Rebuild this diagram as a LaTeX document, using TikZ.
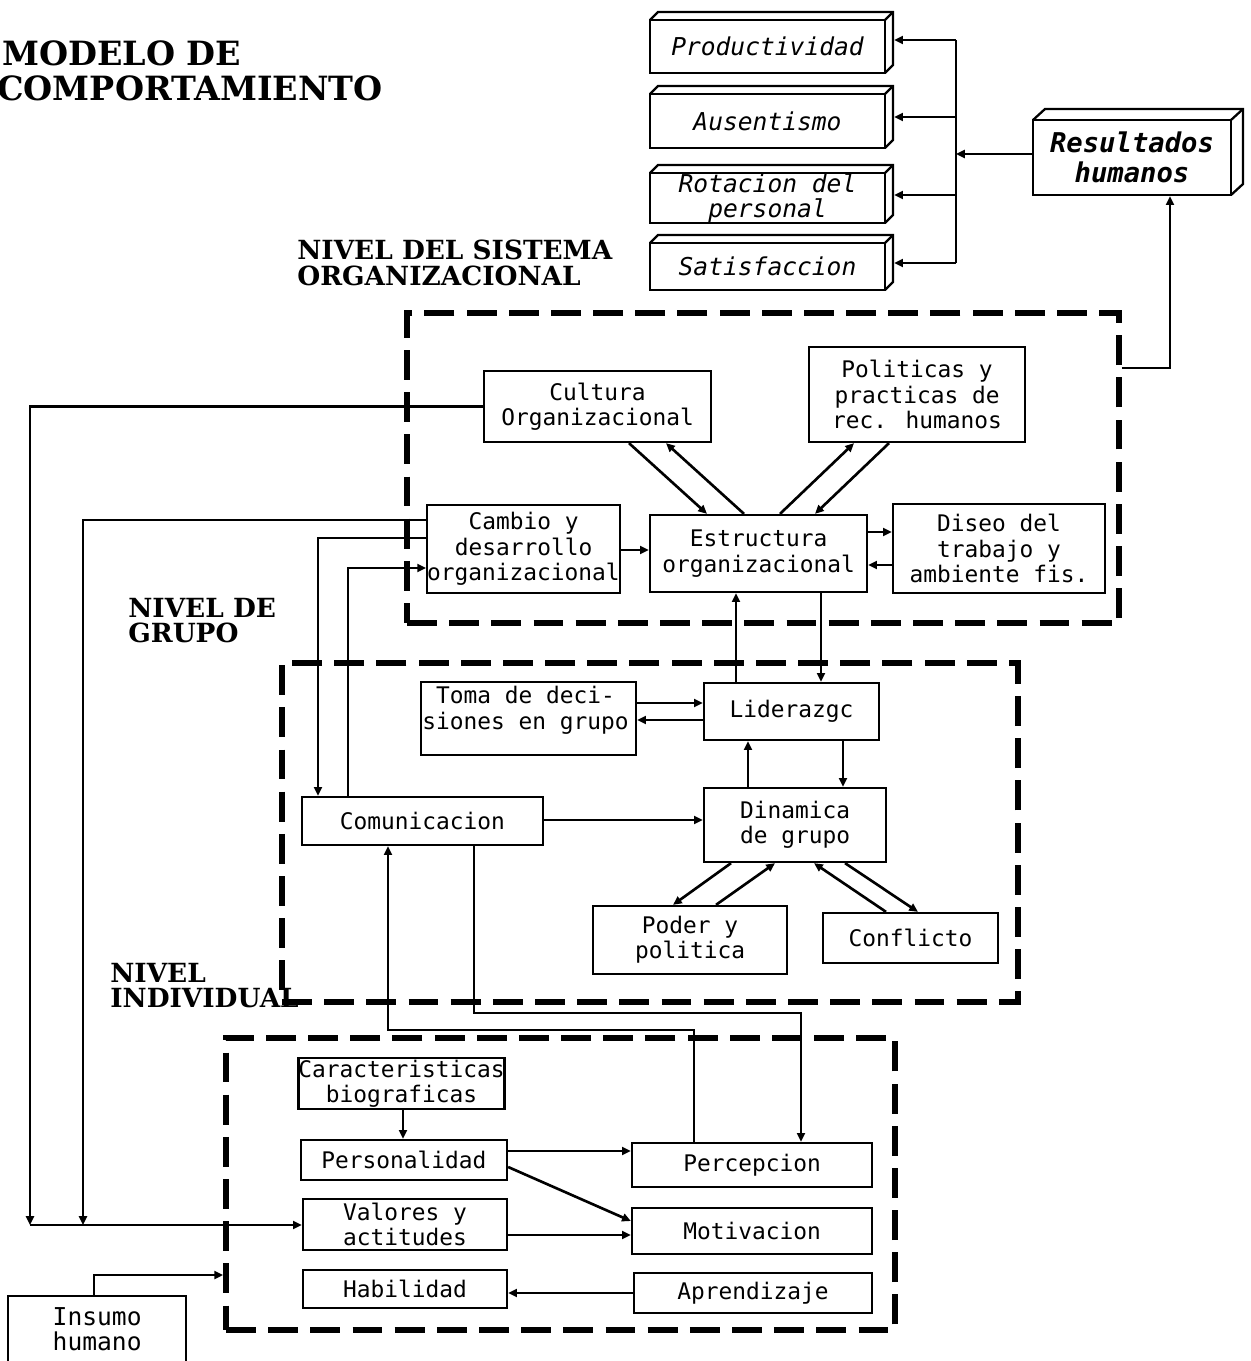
\documentclass[tikz,border=0pt]{standalone}
\usepackage{fontspec}
\usetikzlibrary{arrows.meta,calc}
\newfontfamily\boxfont{DejaVu Sans Mono}
\newfontfamily\headfont{DejaVu Serif}

\tikzset{
  box/.style={draw, line width=1.3pt, fill=white, inner sep=0pt, align=center,
    font=\boxfont\fontsize{13}{14.4}\selectfont},
  slab/.style={line width=1.3pt},
  zone/.style={draw, line width=3.2pt, dash pattern=on 17pt off 7pt, inner sep=0pt},
  conn/.style={line width=1.5pt},
  arr/.style={line width=1.5pt, -{Triangle[length=5pt,width=4.5pt]}},
  levellabel/.style={inner sep=0pt, align=left, anchor=north west,
    font=\headfont\bfseries\fontsize{15}{14.4}\selectfont},
}

% rectangle node from its corners (x1,y1)-(x2,y2)
\newcommand{\rbox}[6]{%
  \node[box, minimum width={(#4-#2)*0.02cm}, minimum height={(#5-#3)*0.02cm}]
    (#1) at ({(#2+#4)/2},{(#3+#5)/2}) {#6};}
\newcommand{\zbox}[5]{%
  \node[zone, minimum width={(#4-#2)*0.02cm}, minimum height={(#5-#3)*0.02cm}]
    (#1) at ({(#2+#4)/2},{(#3+#5)/2}) {};}
% box with a raised back face (offset #6,#7), text #9 in font #8
\newcommand{\slabbox}[9]{%
  \draw[slab] (#2,#3) -- ++(#6,-#7) -- ({#4+#6},{#3-#7}) -- ({#4+#6},{#5-#7}) -- (#4,#5);
  \draw[slab] (#4,#3) -- ++(#6,-#7);
  \node[box, font=#8, minimum width={(#4-#2)*0.02cm}, minimum height={(#5-#3)*0.02cm}]
    (#1) at ({(#2+#4)/2},{(#3+#5)/2}) {#9};}

\begin{document}
\begin{tikzpicture}[x=0.02cm, y=-0.02cm]
\useasboundingbox (0,0) rectangle (1250,1361);
\fill[white] (0,0) rectangle (1250,1361);
\clip (0,0) rectangle (1250,1361);

% ---------- title and level labels ----------
\node[anchor=base west, inner sep=0pt, font=\headfont\bfseries\fontsize{19}{24}\selectfont]
  (t1) at (2,66) {MODELO DE};
\node[anchor=base west, inner sep=0pt, font=\headfont\bfseries\fontsize{19}{24}\selectfont]
  (t2) at (-3,101) {COMPORTAMIENTO};
\node[levellabel] (lvorg) at (297,240) {NIVEL DEL SISTEMA\\ORGANIZACIONAL};
\node[levellabel] (lvgrp) at (128,598) {NIVEL DE\\GRUPO};
\node[levellabel] (lvind) at (110,963) {NIVEL\\INDIVIDUAL};

% ---------- dashed zones ----------
\zbox{org}{407}{313}{1119}{623}
\zbox{grp}{282}{663}{1018}{1002}
\zbox{ind}{226}{1038}{895}{1330}

% ---------- human outcomes ----------
\slabbox{prod}{650}{20}{885}{73}{8}{8}{\boxfont\itshape\fontsize{14}{14.4}\selectfont}{Productividad}
\slabbox{aus}{650}{94}{885}{148}{8}{8}{\boxfont\itshape\fontsize{14}{14.4}\selectfont}{Ausentismo}
\slabbox{rot}{650}{173}{885}{223}{8}{8}{\boxfont\itshape\fontsize{14}{14.4}\selectfont}{Rotacion del\\personal}
\slabbox{sat}{650}{243}{885}{290}{8}{8}{\boxfont\itshape\fontsize{14}{14.4}\selectfont}{Satisfaccion}
\slabbox{res}{1033}{120}{1231}{195}{12}{11}{\boxfont\bfseries\itshape\fontsize{15.5}{17}\selectfont}{Resultados\\humanos}

% ---------- organizational level ----------
\rbox{cult}{484}{371}{711}{442}{Cultura\\Organizacional}
\rbox{pol}{809}{347}{1025}{442}{Politicas y\\practicas de\\rec. humanos}
\rbox{camb}{429}{505}{618}{593}{Cambio y\\desarrollo\\organizacional}
\rbox{est}{650}{515}{867}{592}{Estructura\\organizacional}
\rbox{dis}{893}{504}{1105}{593}{Diseo del\\trabajo y\\ambiente fis.}

% ---------- group level ----------
\rbox{toma}{421}{682}{636}{755}{}
\node[inner sep=0pt, anchor=north west, align=left, font=\boxfont\fontsize{13}{14.4}\selectfont]
  (tomatxt) at (422,686) {\ Toma de deci-\\siones en grupo};
\rbox{lid}{704}{683}{879}{740}{Liderazgc}
\rbox{din}{704}{788}{886}{862}{Dinamica\\de grupo}
\rbox{com}{302}{797}{543}{845}{Comunicacion}
\rbox{pod}{593}{906}{787}{974}{Poder y\\politica}
\rbox{conf}{823}{913}{998}{963}{Conflicto}

% ---------- individual level ----------
\rbox{carac}{301}{1058}{502}{1109}{Caracteristicas\\biograficas}
\rbox{pers}{301}{1140}{507}{1180}{Personalidad}
\rbox{val}{303}{1199}{507}{1250}{Valores y\\actitudes}
\rbox{hab}{303}{1270}{507}{1308}{Habilidad}
\rbox{perc}{632}{1143}{872}{1187}{Percepcion}
\rbox{mot}{632}{1208}{872}{1254}{Motivacion}
\rbox{apr}{634}{1273}{872}{1313}{Aprendizaje}
\node[box, font=\boxfont\fontsize{14}{14.4}\selectfont, minimum width={178*0.02cm},
  minimum height={66*0.02cm}, anchor=north west] (ins) at (7,1295) {Insumo\\humano};

% ---------- outcome connectors ----------
\coordinate (b1) at (956,40);
\coordinate (b2) at (956,117);
\coordinate (b3) at (956,195);
\coordinate (b4) at (956,263);
\coordinate (bm) at (956,154);
\draw[conn] (b1) -- (b4);
\draw[arr] (b1) -- ($(prod.east |- b1)+(8,0)$);
\draw[arr] (b2) -- ($(aus.east |- b2)+(8,0)$);
\draw[arr] (b3) -- ($(rot.east |- b3)+(8,0)$);
\draw[arr] (b4) -- ($(sat.east |- b4)+(8,0)$);
\draw[arr] (res.west |- bm) -- (bm);
\draw[arr] (org.east |- 0,368) -| (res.south -| 1170,0);

% ---------- organizational connectors ----------
\draw[arr] (cult.south -| 629,0) -- (est.north -| 707,0);
\draw[arr] (est.north -| 744,0) -- (cult.south -| 666,0);
\draw[arr] (est.north -| 780,0) -- (pol.south -| 854,0);
\draw[arr] (pol.south -| 889,0) -- (est.north -| 815,0);
\draw[arr] (camb.east |- 0,550) -- (est.west |- 0,550);
\draw[arr] (est.east |- 0,532) -- (dis.west |- 0,532);
\draw[arr] (dis.west |- 0,565) -- (est.east |- 0,565);
\draw[arr] (lid.north -| 736,0) -- (est.south -| 736,0);
\draw[arr] (est.south -| 821,0) -- (lid.north -| 821,0);

% ---------- long feedback lines on the left ----------
\coordinate (jA) at (30,1225);
\coordinate (jB) at (83,1225);
\draw[arr] (cult.west) -| (jA);
\draw[arr] (camb.west |- 0,520) -| (jB);
\draw[arr] (jA) -- (val.west |- jA);
\draw[arr] (camb.west |- 0,538) -| (com.north -| 318,0);
\draw[arr] (com.north -| 348,0) |- (camb.west |- 0,568);

% ---------- group connectors ----------
\draw[arr] (toma.east |- 0,703) -- (lid.west |- 0,703);
\draw[arr] (lid.west |- 0,720) -- (toma.east |- 0,720);
\draw[arr] (din.north -| 748,0) -- (lid.south -| 748,0);
\draw[arr] (lid.south -| 843,0) -- (din.north -| 843,0);
\draw[arr] (com.east |- 0,820) -- (din.west |- 0,820);
\draw[arr] (din.south -| 731,0) -- (pod.north -| 673,0);
\draw[arr] (pod.north -| 716,0) -- (din.south -| 775,0);
\draw[arr] (conf.north -| 886,0) -- (din.south -| 814,0);
\draw[arr] (din.south -| 845,0) -- (conf.north -| 918,0);

% ---------- links between group and individual ----------
\draw[arr] (perc.north -| 694,0) |- (388,1030) -- (com.south -| 388,0);
\draw[arr] (com.south -| 474,0) |- (801,1013) -- (perc.north -| 801,0);

% ---------- individual connectors ----------
\draw[arr] (carac.south -| 403,0) -- (pers.north -| 403,0);
\draw[arr] (pers.east |- 0,1151) -- (perc.west |- 0,1151);
\draw[arr] (pers.east |- 0,1167) -- (mot.west |- 0,1221);
\draw[arr] (val.east |- 0,1235) -- (mot.west |- 0,1235);
\draw[arr] (apr.west |- 0,1293) -- (hab.east |- 0,1293);
\draw[arr] (ins.north -| 94,0) |- (ind.west |- 0,1275);
\end{tikzpicture}
\end{document}
